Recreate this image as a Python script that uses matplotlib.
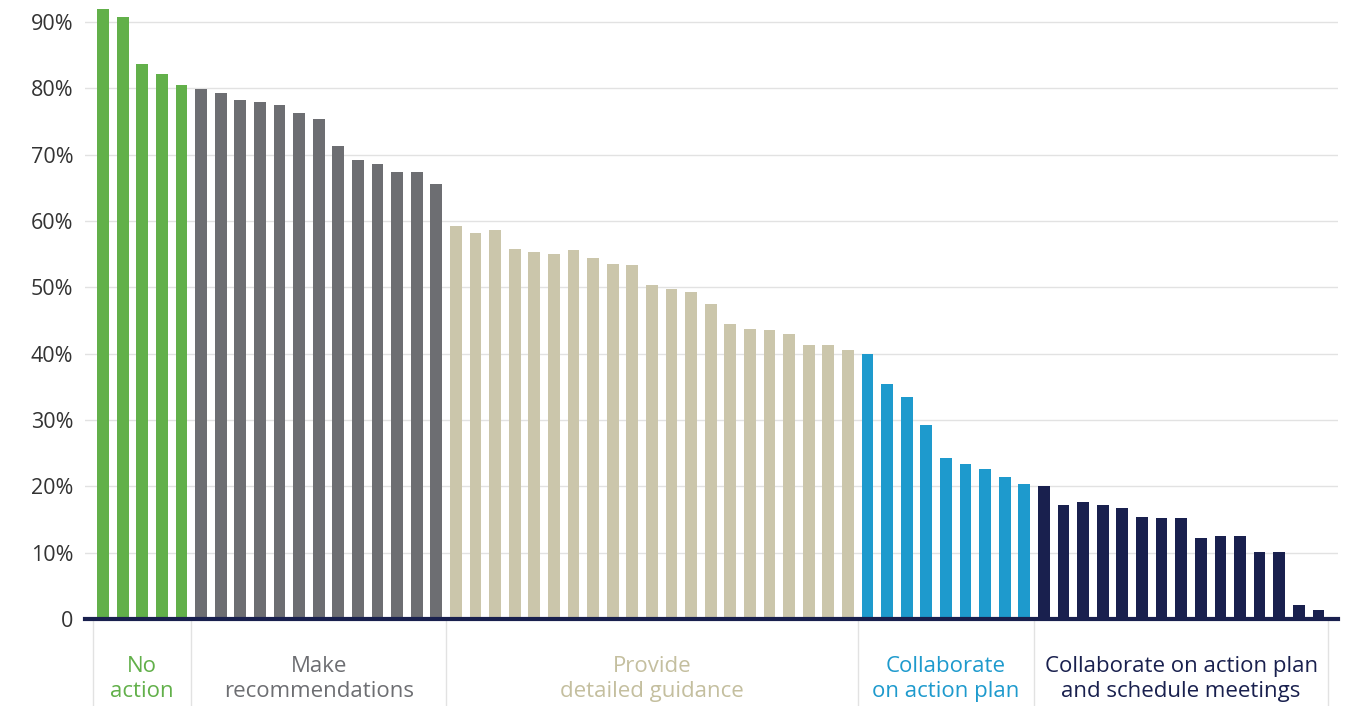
import numpy as np
import matplotlib.pyplot as plt
from matplotlib.transforms import blended_transform_factory

plt.rcParams['font.family'] = ['Open Sans', 'DejaVu Sans']

# share of respondents per item, grouped by response type
no_action = [92.0, 90.8, 83.7, 82.2, 80.5]
make_recs = [79.9, 79.3, 78.3, 77.9, 77.5, 76.3, 75.3, 71.3, 69.2, 68.6, 67.4, 67.4, 65.6]
guidance = [59.2, 58.2, 58.6, 55.8, 55.3, 55.0, 55.6, 54.4, 53.5, 53.4, 50.4,
            49.8, 49.3, 47.5, 44.5, 43.7, 43.6, 43.0, 41.3, 41.3, 40.6]
collab = [40.0, 35.4, 33.4, 29.2, 24.3, 23.4, 22.6, 21.4, 20.4]
collab_meet = [20.0, 17.2, 17.6, 17.2, 16.7, 15.4, 15.2, 15.2, 12.2, 12.5, 12.5,
               10.1, 10.1, 2.1, 1.4]

groups = [no_action, make_recs, guidance, collab, collab_meet]
group_labels = ["No\naction", "Make\nrecommendations", "Provide\ndetailed guidance",
                "Collaborate\non action plan", "Collaborate on action plan\nand schedule meetings"]
colors = ["#62b04a", "#6d6e72", "#cbc6ab", "#1e9acd", "#19204e"]
label_colors = ["#62b04a", "#6d6e72", "#c4bf9f", "#1e9acd", "#19204e"]
yticks = [0, 10, 20, 30, 40, 50, 60, 70, 80, 90]

fig = plt.figure(figsize=(13.51, 7.06), dpi=100)
ax = fig.add_axes([85 / 1351, 1 - 619 / 706, (1338 - 85) / 1351, 619 / 706])

start = 0
bounds = [-0.5]
for vals, c in zip(groups, colors):
    x = np.arange(start, start + len(vals))
    ax.bar(x, vals, width=0.6, color=c, zorder=2)
    start += len(vals)
    bounds.append(start - 0.5)

ax.set_xlim(-0.92, 63.0)
ax.set_ylim(0, 93.3)
ax.set_yticks(yticks)
ax.set_yticklabels(["0"] + [f"{v}%" for v in yticks[1:]])
ax.tick_params(axis='y', length=0, pad=8.5, labelsize=15.5, labelcolor="#333333")
ax.set_xticks([])
ax.grid(axis='y', color="#e2e2e2", lw=1, zorder=0)
for s in ax.spines.values():
    s.set_visible(False)
ax.axhline(0, color="#19204e", lw=3, zorder=3, clip_on=False)

trans = blended_transform_factory(ax.transData, fig.transFigure)
for b in bounds:
    ax.plot([b, b], [0, 1 - 621 / 706], color="#e2e2e2", lw=1, transform=trans, clip_on=False)

for i, (lab, lc) in enumerate(zip(group_labels, label_colors)):
    cx = (bounds[i] + bounds[i + 1]) / 2
    ax.text(cx, 1 - 679 / 706, lab, transform=trans, ha='center', va='center',
            fontsize=16, color=lc, linespacing=1.27)

fig.savefig("out.png", dpi=100)
